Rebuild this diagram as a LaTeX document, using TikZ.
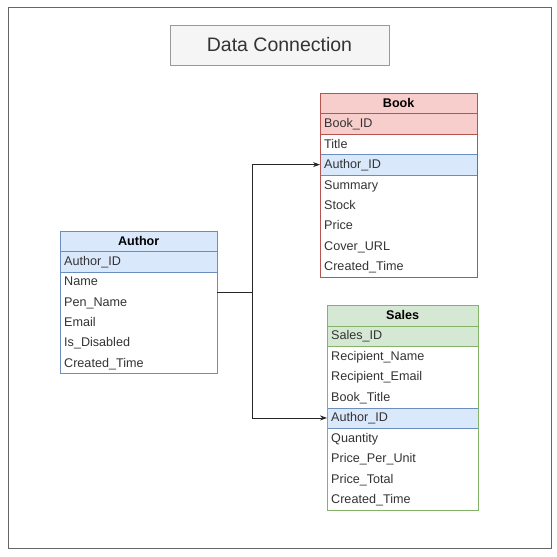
\documentclass[tikz,border=0pt]{standalone}
\usepackage{fontspec}
\setmainfont{Liberation Sans}
\usepackage{xcolor}
\usetikzlibrary{arrows.meta, positioning}

\definecolor{blueFill}{HTML}{DAE8FC}
\definecolor{blueLine}{HTML}{6C8EBF}
\definecolor{redFill}{HTML}{F8CECC}
\definecolor{redLine}{HTML}{B85450}
\definecolor{greenFill}{HTML}{D5E8D4}
\definecolor{greenLine}{HTML}{82B366}
\definecolor{inkGray}{HTML}{333333}

\tikzset{
  field/.style={anchor=north west, inner xsep=4, inner ysep=0, align=left,
    text height=10, text depth=2,
    text=inkGray, font=\fontsize{12.6}{14}\selectfont},
  authorhead/.style={field, fill=blueFill, draw=blueLine, align=center,
    font=\fontsize{12.6}{14}\selectfont\bfseries, text=black},
  authorkey/.style={field, fill=blueFill, draw=blueLine},
  bookhead/.style={field, fill=redFill, draw=redLine, align=center,
    font=\fontsize{12.6}{14}\selectfont\bfseries, text=black},
  bookkey/.style={field, fill=redFill, draw=redLine},
  saleshead/.style={field, fill=greenFill, draw=greenLine, align=center,
    font=\fontsize{12.6}{14}\selectfont\bfseries, text=black},
  saleskey/.style={field, fill=greenFill, draw=greenLine},
  fkey/.style={field, fill=blueFill, draw=blueLine},
  link/.style={draw=black!85, line width=0.8},
}

\begin{document}
\begin{tikzpicture}[x=1pt, y=-1pt]
\useasboundingbox (0,0) rectangle (557,557);

\draw[draw=black!60, line width=1] (8,7) rectangle (551,548);

\node[draw=black!40, fill=black!4, minimum width=219, minimum height=40,
  text=inkGray, font=\fontsize{19.5}{22}\selectfont] (title) at (279.5,45) {Data Connection};

% Author
\def\W{157}
\def\H{20.3}
\foreach \txt/\sty [count=\i from 0] in {Author/authorhead, Author\_ID/authorkey,
    Name/field, Pen\_Name/field, Email/field, Is\_Disabled/field, Created\_Time/field}
  \node[\sty, text width=\W-8, minimum height=\H] (author-\i) at (60, 231+\i*\H) {\txt};
\draw[blueLine, line width=0.6] (author-0.north west) rectangle (author-6.south east);

% Book
\def\W{157}
\def\H{20.4}
\foreach \txt/\sty [count=\i from 0] in {Book/bookhead, Book\_ID/bookkey, Title/field,
    Author\_ID/fkey, Summary/field, Stock/field, Price/field, Cover\_URL/field,
    Created\_Time/field}
  \node[\sty, text width=\W-8, minimum height=\H] (book-\i) at (320, 93+\i*\H) {\txt};
\draw[redLine, line width=0.6] (book-0.north west) rectangle (book-8.south east);

% Sales
\def\W{151}
\def\H{20.5}
\foreach \txt/\sty [count=\i from 0] in {Sales/saleshead, Sales\_ID/saleskey,
    Recipient\_Name/field, Recipient\_Email/field, Book\_Title/field, Author\_ID/fkey,
    Quantity/field, Price\_Per\_Unit/field, Price\_Total/field, Created\_Time/field}
  \node[\sty, text width=\W-8, minimum height=\H] (sales-\i) at (327, 305+\i*\H) {\txt};
\draw[greenLine, line width=0.6] (sales-0.north west) rectangle (sales-9.south east);

% connections
\draw[link] (author-2.south east) -- ++(35,0) coordinate (split);
\draw[link, -{Stealth[length=7pt, width=5pt]}] (split) |- (book-3.west);
\draw[link, -{Stealth[length=7pt, width=5pt]}] (split) |- (sales-5.west);
\end{tikzpicture}
\end{document}
